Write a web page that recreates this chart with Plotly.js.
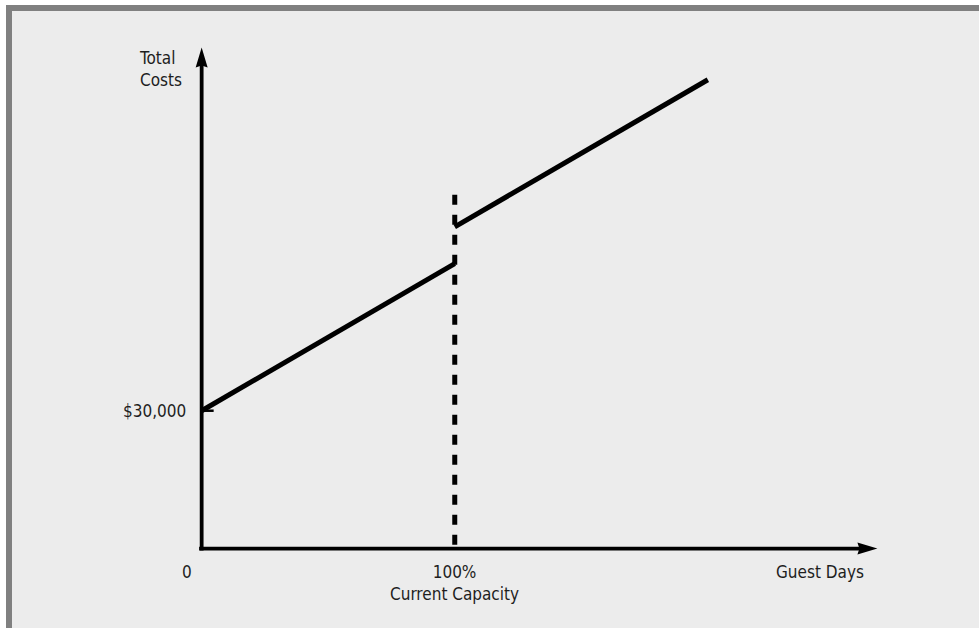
<!DOCTYPE html>
<html><head><meta charset="utf-8">
<script src="https://cdn.plot.ly/plotly-3.0.1.min.js"></script>
<style>
body{margin:0;background:#fff;}
#wrap{position:relative;width:979px;height:628px;overflow:hidden;}
#chart{position:absolute;left:0;top:0;width:979px;height:628px;}
.f{position:absolute;pointer-events:none;}
</style>
</head><body>
<div id="wrap"><div id="chart"></div>
<div class="f" style="left:0;top:0;width:979px;height:5px;background:#fff"></div>
<div class="f" style="left:0;top:0;width:6px;height:628px;background:#fff"></div>
<div class="f" style="left:6px;top:5px;width:973px;height:6px;background:#808080"></div>
<div class="f" style="left:6px;top:5px;width:6px;height:623px;background:#808080"></div>
</div>
<script>
// ---- data (x: % of current capacity, y: total costs in $) ----
const belowCapX = [0, 100];
const belowCapCost = [30000, 62000];
const aboveCapX = [100, 200];
const aboveCapCost = [70000, 102000];
const capacityLineX = [100, 100];
const capacityLineY = [77000, 0];
const yTickVals = [30000];
const yTickText = ['$30,000'];
const xLabelVals = [0, 100];
const xLabelText = ['0', '100%<br>Current Capacity'];
const xAxisTitle = 'Guest Days';
const yAxisTitle = 'Total<br>Costs';
const xAxisEnd = 267;
const yAxisEnd = 109000;

const FONT = {family: 'DejaVu Sans Condensed, Liberation Sans Narrow, DejaVu Sans, sans-serif', size: 17, color: '#1e1e1e'};

const traces = [
  {x: belowCapX, y: belowCapCost, mode: 'lines', line: {color: '#000', width: 5}},
  {x: aboveCapX, y: aboveCapCost, mode: 'lines', line: {color: '#000', width: 5}},
  {x: capacityLineX, y: capacityLineY, mode: 'lines', line: {color: '#000', width: 5, dash: '10px,10px'}}
];

const shapes = [
  // y axis shaft
  {type: 'line', xref: 'x', yref: 'y', x0: 0, x1: 0, y0: -400, y1: yAxisEnd - 3000, line: {color: '#000', width: 3.8}},
  // x axis shaft
  {type: 'line', xref: 'x', yref: 'y', x0: -1, x1: xAxisEnd - 5, y0: 0, y1: 0, line: {color: '#000', width: 3.8}},
  // arrowheads
  {type: 'path', xref: 'x', yref: 'y', xsizemode: 'pixel', ysizemode: 'pixel', xanchor: xAxisEnd, yanchor: 0,
   path: 'M0,0 L-20,6 L-18,0 L-20,-6 Z', fillcolor: '#000', line: {width: 0}},
  {type: 'path', xref: 'x', yref: 'y', xsizemode: 'pixel', ysizemode: 'pixel', xanchor: 0, yanchor: yAxisEnd,
   path: 'M0,0 L-6,-20 L0,-18 L6,-20 Z', fillcolor: '#000', line: {width: 0}}
];
// y tick marks (inside)
yTickVals.forEach(v => shapes.push({type: 'line', xref: 'x', yref: 'y', xsizemode: 'pixel', xanchor: 0,
  x0: 0, x1: 12, y0: v, y1: v, line: {color: '#000', width: 2.5}}));

const annotations = [];
yTickVals.forEach((v, i) => annotations.push({x: 0, y: v, xref: 'x', yref: 'y', text: yTickText[i], showarrow: false,
  xanchor: 'right', yanchor: 'middle', xshift: -14, font: FONT}));
xLabelVals.forEach((v, i) => annotations.push({x: v, y: 0, xref: 'x', yref: 'y', text: xLabelText[i], showarrow: false,
  xanchor: 'center', yanchor: 'top', yshift: -11, xshift: v === 0 ? -15 : 0, font: FONT}));
annotations.push({x: xAxisEnd, y: 0, xref: 'x', yref: 'y', text: xAxisTitle, showarrow: false,
  xanchor: 'right', yanchor: 'top', yshift: -11, xshift: -11, font: FONT});
annotations.push({x: 0, y: yAxisEnd, xref: 'x', yref: 'y', text: yAxisTitle, showarrow: false, align: 'left',
  xanchor: 'right', yanchor: 'top', yshift: 2, xshift: -18, font: FONT});

const layout = {
  width: 979, height: 628,
  margin: {l: 189.35, r: 93.9, t: 43, b: 60.6, pad: 0},
  paper_bgcolor: '#ececec', plot_bgcolor: 'rgba(0,0,0,0)',
  showlegend: false, hovermode: false,
  xaxis: {range: [-5, 270], visible: false, fixedrange: true},
  yaxis: {range: [-4000, 110000], visible: false, fixedrange: true},
  shapes: shapes, annotations: annotations, font: FONT
};
Plotly.newPlot('chart', traces, layout, {staticPlot: true, displayModeBar: false});
</script>
</body></html>
